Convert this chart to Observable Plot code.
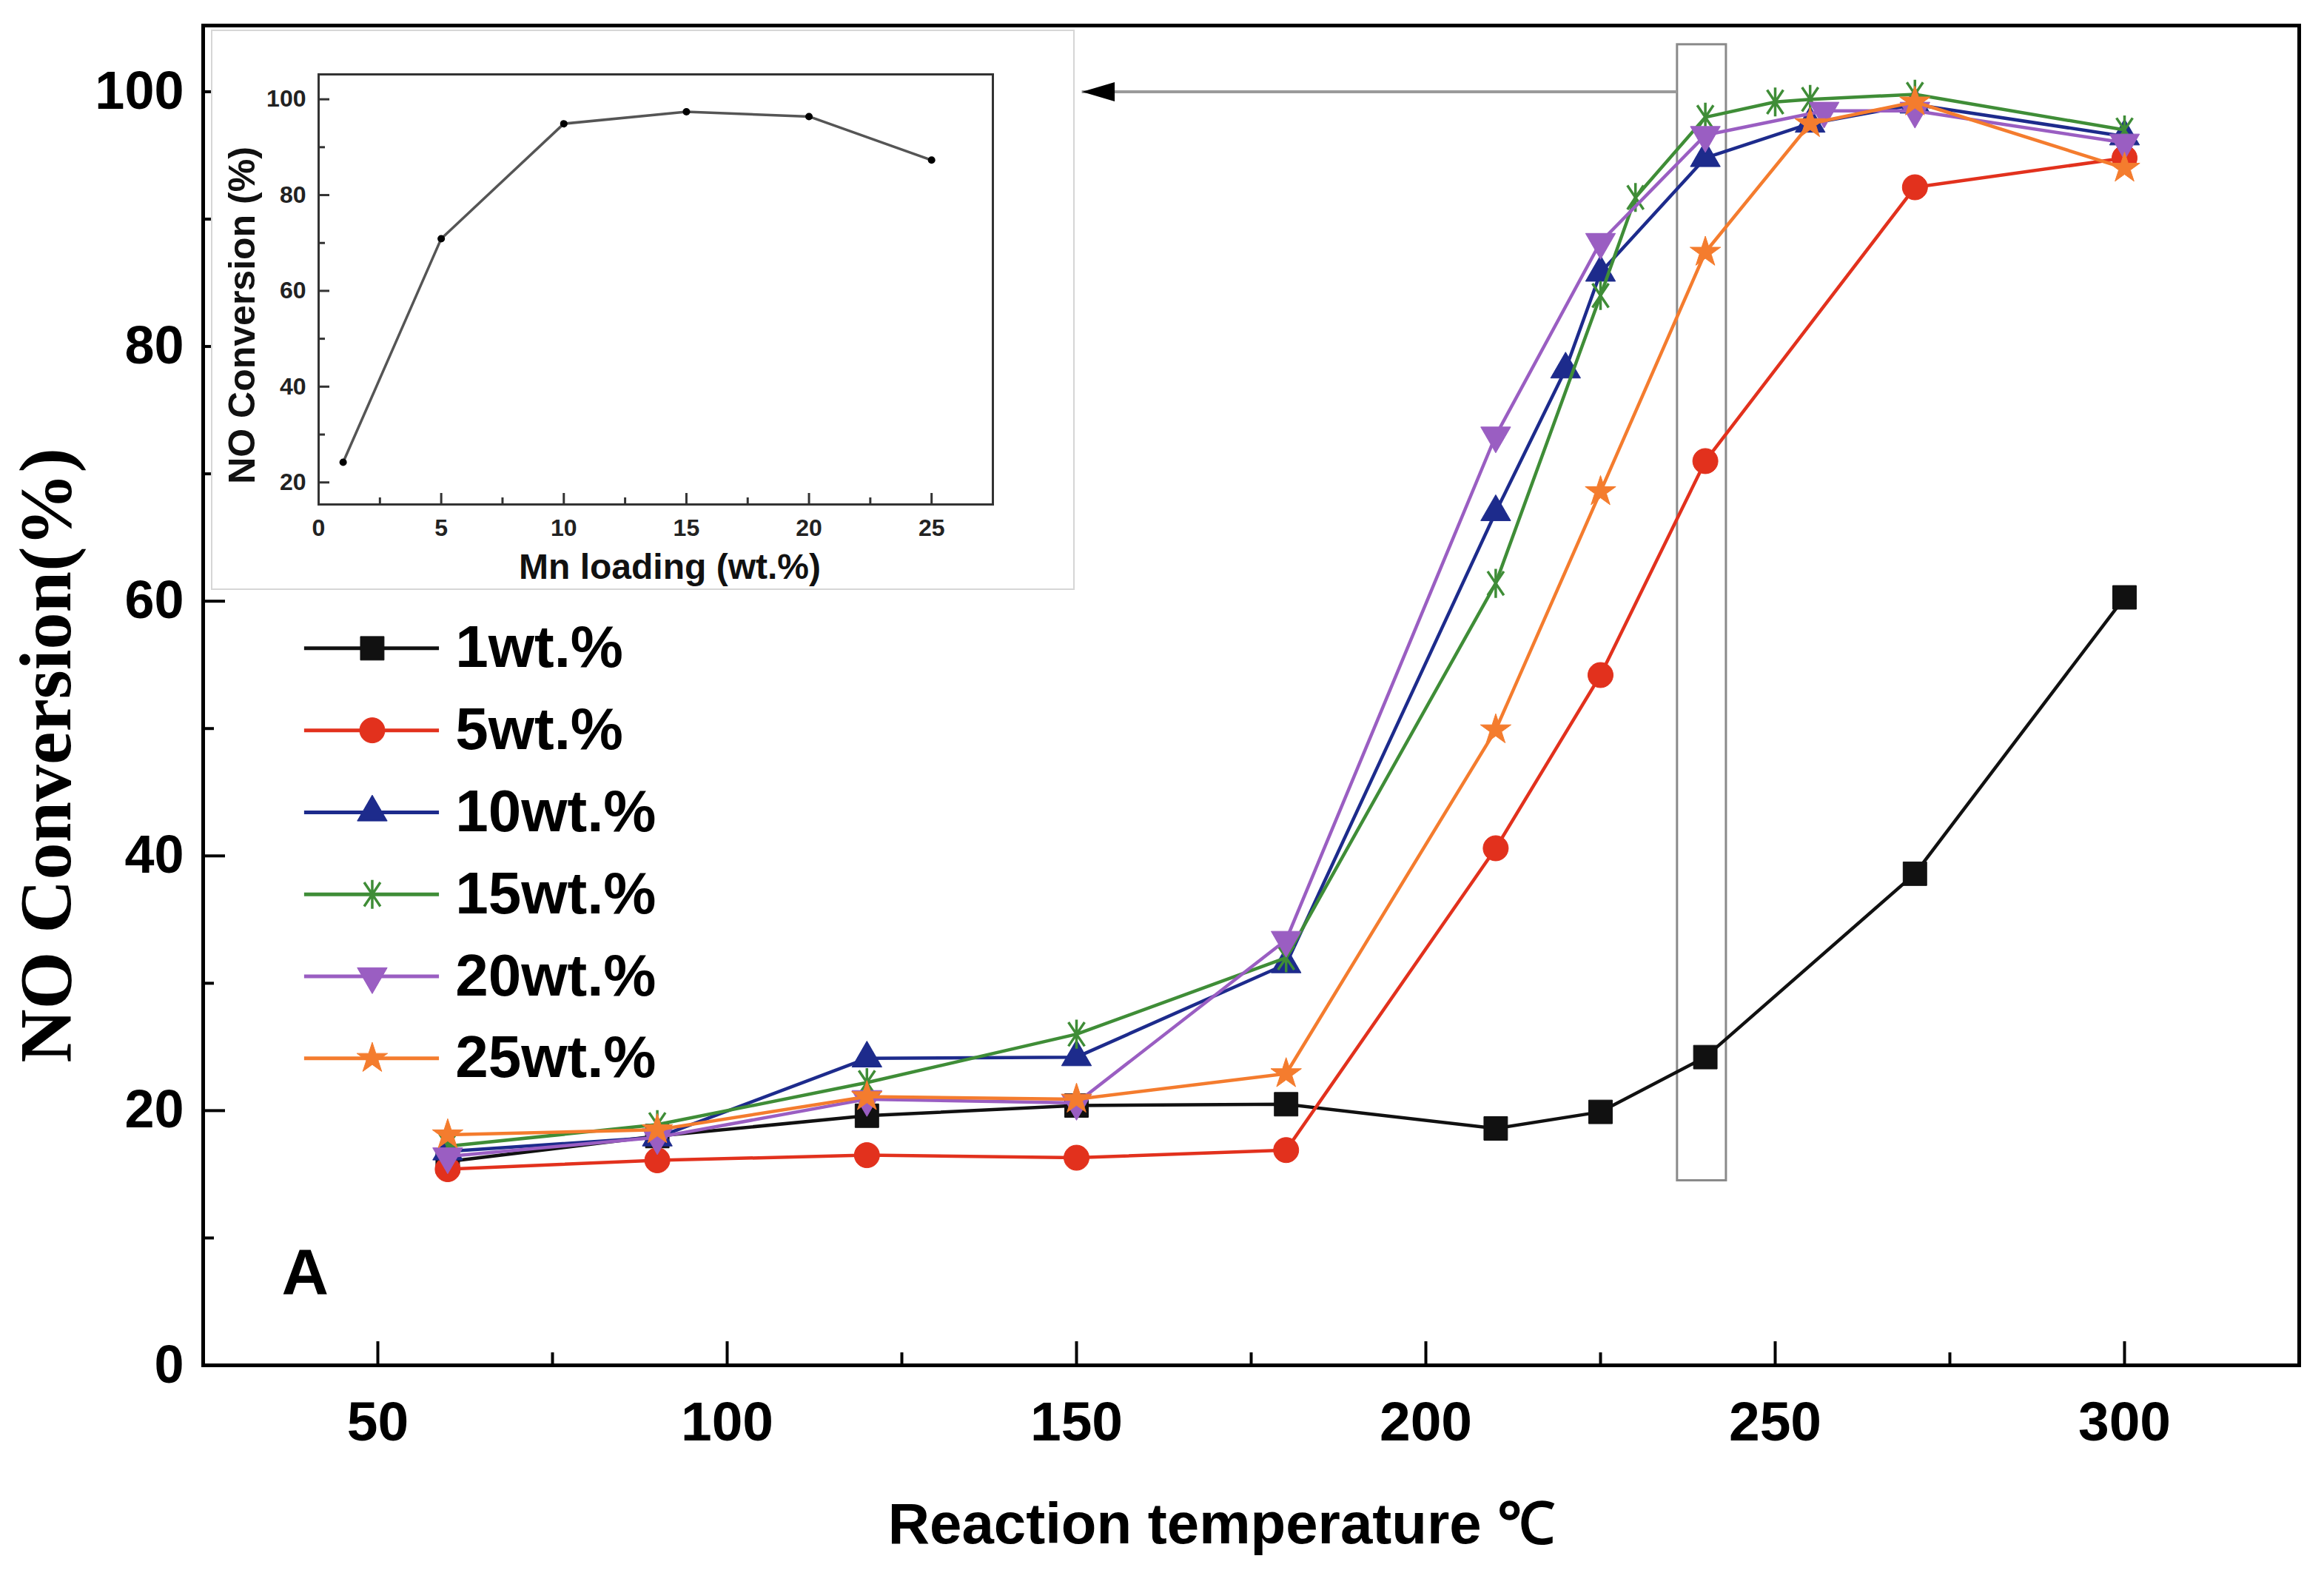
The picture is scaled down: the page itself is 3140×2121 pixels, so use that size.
<!DOCTYPE html>
<html>
<head>
<meta charset="utf-8">
<script src="https://cdn.jsdelivr.net/npm/d3@7"></script>
<script src="https://cdn.jsdelivr.net/npm/@observablehq/plot@0.6"></script>
<style>
  body { margin: 0; background: #fff; }
  #chart { position: relative; width: 3140px; height: 2121px; }
  #inset { position: absolute; left: 285px; top: 40px; }
  #inset svg { outline: 2px solid #d6d6d6; outline-offset: -2px; }
</style>
</head>
<body>
<div id="chart"><div id="inset"></div></div>
<script>
// NO conversion vs reaction temperature for Mn loadings, with inset (conversion at 240 °C vs loading)

const seriesLabels = ["1wt.%", "5wt.%", "10wt.%", "15wt.%", "20wt.%", "25wt.%"];

const temp1 = [60, 90, 120, 150, 180, 210, 225, 240, 270, 300];
const conv1 = [16.0, 18.0, 19.6, 20.4, 20.5, 18.6, 19.9, 24.2, 38.6, 60.3];

const temp5 = [60, 90, 120, 150, 180, 210, 225, 240, 270, 300];
const conv5 = [15.4, 16.1, 16.5, 16.3, 16.9, 40.6, 54.2, 71.0, 92.5, 94.8];

const temp10 = [60, 90, 120, 150, 180, 210, 220, 225, 240, 255, 270, 300];
const conv10 = [16.8, 17.9, 24.1, 24.2, 31.5, 67.0, 78.2, 85.8, 94.8, 97.5, 99.0, 96.5];

const temp15 = [60, 90, 120, 150, 180, 210, 225, 230, 240, 250, 255, 270, 300];
const conv15 = [17.2, 18.9, 22.2, 26.0, 32.0, 61.4, 84.0, 91.7, 98.0, 99.2, 99.4, 99.8, 97.0];

const temp20 = [60, 90, 120, 150, 180, 210, 225, 240, 257, 270, 300];
const conv20 = [16.4, 17.9, 20.9, 20.6, 33.4, 73.0, 88.2, 96.6, 98.5, 98.5, 96.0];

const temp25 = [60, 90, 120, 150, 180, 210, 225, 240, 255, 270, 300];
const conv25 = [18.1, 18.5, 21.1, 20.9, 22.9, 49.9, 68.6, 87.4, 97.5, 99.2, 94.0];

const xMajor = [50, 100, 150, 200, 250, 300];
const xMinor = [75, 125, 175, 225, 275];
const yMajor = [0, 20, 40, 60, 80, 100];
const yMinor = [10, 30, 50, 70, 90];

// inset
const mnLoading = [1, 5, 10, 15, 20, 25];
const insetConv = [24.2, 70.9, 94.9, 97.4, 96.4, 87.3];
const insetXMajor = [0, 5, 10, 15, 20, 25];
const insetXMinor = [2.5, 7.5, 12.5, 17.5, 22.5];
const insetYMajor = [20, 40, 60, 80, 100];
const insetYMinor = [30, 50, 70, 90];

// ---- symbols ----
const sqrt3 = Math.sqrt(3);
const triangleDown = {
  draw(ctx, size) {
    const y = Math.sqrt(size / (sqrt3 * 3));
    ctx.moveTo(0, y * 2);
    ctx.lineTo(-sqrt3 * y, -y);
    ctx.lineTo(sqrt3 * y, -y);
    ctx.closePath();
  }
};
const asteriskNarrow = {
  draw(ctx, size) {
    const r = Math.sqrt(size / Math.PI) * 1.15;
    for (const a of [90, 56, 124]) {
      const t = a * Math.PI / 180, dx = r * Math.cos(t), dy = r * Math.sin(t);
      ctx.moveTo(-dx, -dy);
      ctx.lineTo(dx, dy);
    }
  }
};
const arrowHead = {
  draw(ctx) {
    ctx.moveTo(0, 0);
    ctx.lineTo(44, -13);
    ctx.lineTo(44, 13);
    ctx.closePath();
  }
};

const styles = [
  {color: "#111111", symbol: "square", r: 18, filled: true},
  {color: "#e2311d", symbol: "circle", r: 17, filled: true},
  {color: "#1d2b8c", symbol: "triangle", r: 15, filled: true},
  {color: "#3f8d37", symbol: asteriskNarrow, r: 17, filled: false},
  {color: "#9a5ec2", symbol: triangleDown, r: 15, filled: true},
  {color: "#f47c2e", symbol: "star", r: 13, filled: true},
];

const temps = [temp1, temp5, temp10, temp15, temp20, temp25];
const convs = [conv1, conv5, conv10, conv15, conv20, conv25];
const series = seriesLabels.map((label, i) => ({
  label,
  rows: temps[i].map((t, j) => ({t, v: convs[i][j]}))
}));

// ---- layout ----
const W = 3140, H = 2121;
const M = {top: 34, right: 34, bottom: 277, left: 274};
const frameW = W - M.left - M.right, frameH = H - M.top - M.bottom;
const font = "Liberation Sans, Arial, sans-serif";

// annotation placement (data units)
const box = {x1: 236, x2: 243, y1: 14.5, y2: 103.7};
const arrowY = 100, arrowTipX = 150.8;
const legend = {x1: 39.5, x2: 58.8, xm: 49.2, xt: 61.1, top: 56.3, step: 6.44};

function seriesMarks(s, st) {
  return [
    Plot.line(s.rows, {x: "t", y: "v", stroke: st.color, strokeWidth: 4.5}),
    Plot.dot(s.rows, {
      x: "t", y: "v", symbol: st.symbol, r: st.r,
      fill: st.filled ? st.color : "none",
      stroke: st.color, strokeWidth: st.filled ? 1 : 3.5
    })
  ];
}

function legendMarks(s, st, i) {
  const y = legend.top - i * legend.step;
  return [
    Plot.ruleY([y], {x1: legend.x1, x2: legend.x2, stroke: st.color, strokeWidth: 5}),
    Plot.dot([y], {
      x: legend.xm, y: d => d, symbol: st.symbol, r: st.r,
      fill: st.filled ? st.color : "none",
      stroke: st.color, strokeWidth: st.filled ? 1 : 3.5
    }),
    Plot.text([s.label], {
      x: legend.xt, y: y, text: d => d, textAnchor: "start", lineAnchor: "middle",
      fontSize: 80, fontWeight: "bold", fill: "#000"
    })
  ];
}

const main = Plot.plot({
  width: W, height: H,
  marginTop: M.top, marginRight: M.right, marginBottom: M.bottom, marginLeft: M.left,
  style: {fontFamily: font, background: "#fff", color: "#000"},
  x: {domain: [25, 325]},
  y: {domain: [0, 105.2]},
  marks: [
    Plot.tickX(xMajor, {x: d => d, insetTop: frameH - 32, stroke: "#000", strokeWidth: 4}),
    Plot.tickX(xMinor, {x: d => d, insetTop: frameH - 17, stroke: "#000", strokeWidth: 4}),
    Plot.tickY(yMajor, {y: d => d, insetRight: frameW - 30, stroke: "#000", strokeWidth: 4}),
    Plot.tickY(yMinor, {y: d => d, insetRight: frameW - 15, stroke: "#000", strokeWidth: 4}),
    Plot.axisX({ticks: xMajor, tickSize: 0, tickPadding: 48, fontSize: 75, fontWeight: "bold", label: null}),
    Plot.axisY({ticks: yMajor, tickSize: 0, tickPadding: 26, fontSize: 72, fontWeight: "bold", label: null}),
    Plot.text(["Reaction temperature ℃"], {
      frameAnchor: "bottom", text: d => d, dx: -40, dy: 216, textAnchor: "middle", lineAnchor: "middle",
      fontSize: 78, fontWeight: "bold", fill: "#000"
    }),
    Plot.text(["NO Conversion(%)"], {
      frameAnchor: "left", text: d => d, rotate: -90, dx: -212, dy: 81,
      textAnchor: "middle", lineAnchor: "middle",
      fontSize: 100, fontWeight: "bold", fontFamily: "Liberation Serif, Times New Roman, serif", fill: "#000"
    }),
    Plot.rect([box], {x1: "x1", x2: "x2", y1: "y1", y2: "y2", fill: "none", stroke: "#8a8a8a", strokeWidth: 3}),
    Plot.ruleY([arrowY], {x1: arrowTipX, x2: box.x1, stroke: "#9a9a9a", strokeWidth: 4}),
    Plot.dot([arrowY], {x: arrowTipX, y: d => d, symbol: arrowHead, fill: "#000", stroke: "none"}),
    ...series.flatMap((s, i) => seriesMarks(s, styles[i])),
    ...series.flatMap((s, i) => legendMarks(s, styles[i], i)),
    Plot.text(["A"], {x: 39.6, y: 5.6, text: d => d, lineAnchor: "bottom", fontSize: 88, fontWeight: "bold", fill: "#000"}),
    Plot.frame({stroke: "#000", strokeWidth: 5}),
  ]
});
document.getElementById("chart").prepend(main);

// ---- inset ----
const IW = 1167, IH = 757;
const IM = {top: 60, right: 111, bottom: 116, left: 145};
const iFrameW = IW - IM.left - IM.right, iFrameH = IH - IM.top - IM.bottom;
const insetRows = mnLoading.map((m, i) => ({m, v: insetConv[i]}));

const inset = Plot.plot({
  width: IW, height: IH,
  marginTop: IM.top, marginRight: IM.right, marginBottom: IM.bottom, marginLeft: IM.left,
  style: {fontFamily: font, background: "#fff", color: "#222"},
  x: {domain: [0, 27.5]},
  y: {domain: [15.4, 105.2]},
  marks: [
    Plot.tickX(insetXMajor, {x: d => d, insetTop: iFrameH - 15, stroke: "#333", strokeWidth: 3}),
    Plot.tickX(insetXMinor, {x: d => d, insetTop: iFrameH - 9, stroke: "#333", strokeWidth: 3}),
    Plot.tickY(insetYMajor, {y: d => d, insetRight: iFrameW - 15, stroke: "#333", strokeWidth: 3}),
    Plot.tickY(insetYMinor, {y: d => d, insetRight: iFrameW - 9, stroke: "#333", strokeWidth: 3}),
    Plot.axisX({ticks: insetXMajor, tickSize: 0, tickPadding: 20, fontSize: 32, fontWeight: "bold", label: null}),
    Plot.axisY({ticks: insetYMajor, tickSize: 0, tickPadding: 17, fontSize: 32, fontWeight: "bold", label: null}),
    Plot.line(insetRows, {x: "m", y: "v", stroke: "#555", strokeWidth: 3.5}),
    Plot.dot(insetRows, {x: "m", y: "v", r: 5, fill: "#000", stroke: "none"}),
    Plot.text(["Mn loading (wt.%)"], {
      frameAnchor: "bottom", text: d => d, dx: 19, dy: 85, textAnchor: "middle", lineAnchor: "middle",
      fontSize: 48, fontWeight: "bold", fill: "#111"
    }),
    Plot.text(["NO Conversion (%)"], {
      frameAnchor: "left", text: d => d, rotate: -90, dx: -103, dy: 35,
      textAnchor: "middle", lineAnchor: "middle",
      fontSize: 50, fontWeight: "bold", fill: "#111"
    }),
    Plot.frame({stroke: "#333", strokeWidth: 3}),
  ]
});
document.getElementById("inset").appendChild(inset);
</script>
</body>
</html>
